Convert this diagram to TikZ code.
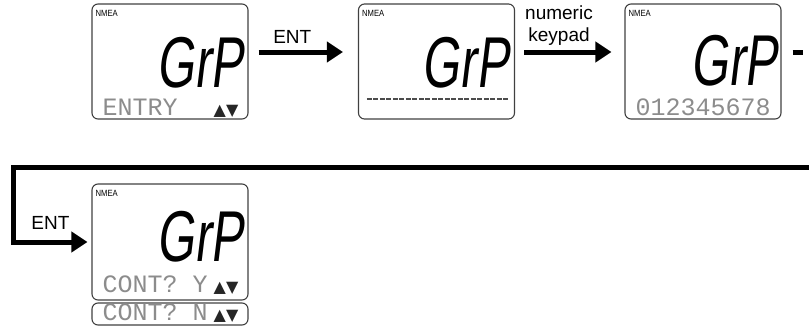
\documentclass[tikz,border=0pt]{standalone}
\usepackage{fontspec}
\setmainfont{Liberation Sans}
\newfontfamily\dotfont{Liberation Mono}
\newfontfamily\segfont[FakeSlant=0.18]{Liberation Sans}
\newfontfamily\symfont{DejaVu Sans}
\usetikzlibrary{arrows.meta,positioning}

\tikzset{
  lcd/.style={draw=black!75, line width=1.1pt, rounded corners=6pt, minimum width=156pt, minimum height=115pt, inner sep=0pt},
  nmea/.style={font=\fontsize{9}{9}\selectfont, xscale=0.85, anchor=north west, inner sep=0pt},
  seg/.style={font=\segfont\fontsize{72}{72}\selectfont, xscale=0.68, anchor=base east, inner sep=0pt, text depth=0pt},
  dots/.style={font=\dotfont\fontsize{25}{25}\selectfont, text=black!45, anchor=base west, inner sep=0pt, text height=15pt},
  updown/.style={font=\symfont\fontsize{16}{16}\selectfont, text=black!85, anchor=base east, inner sep=0pt},
  blank/.style={line width=2pt, black!70, dash pattern=on 5pt off 1.5pt},
  flow/.style={line width=5pt, -{Triangle[length=16pt,width=20pt]}},
  lbl/.style={font=\fontsize{19}{22}\selectfont, align=center, inner sep=1pt}
}

\begin{document}
\begin{tikzpicture}[x=1pt,y=-1pt]
\useasboundingbox (0,0) rectangle (809,327);
\clip (0,0) rectangle (809,327);
% screens
\node[lcd] (scr1) at (170,61.5) {};
\node[lcd] (scr2) at (436.5,61.5) {};
\node[lcd] (scr3) at (703,61.5) {};
\node[lcd, minimum height=116pt] (scr4) at (170,242) {};
\node[lcd, minimum height=22pt] (scr4n) at (170,314) {};
\foreach \s in {scr1,scr2,scr3,scr4}
  \node[nmea] at ([xshift=4pt,yshift=-7pt]\s.north west) {NMEA};
% big segment text
\node[seg] (grp1) at ([xshift=-5pt,yshift=-84pt]scr1.north east) {GrP};
\node[seg] (grp2) at ([xshift=-6pt,yshift=-84pt]scr2.north east) {GrP};
\node[seg] (grp3) at ([xshift=-4pt,yshift=-82pt]scr3.north east) {GrP};
\node[seg] (grp4) at ([xshift=-5pt,yshift=-78pt]scr4.north east) {GrP};
% dot matrix lines
\node[dots] (entry1) at ([xshift=11pt,yshift=4pt]scr1.south west) {ENTRY};
\node[updown] (ud1) at ([xshift=-10pt,yshift=4pt]scr1.south east) {▲▼};
\draw[blank] ([xshift=9pt,yshift=21pt]scr2.south west) -- ([xshift=-6pt,yshift=21pt]scr2.south east);
\node[dots] (num3) at ([xshift=11pt,yshift=4pt]scr3.south west) {012345678};
\node[dots] (conty) at ([xshift=11pt,yshift=8pt]scr4.south west) {CONT? Y};
\node[updown] (ud4) at ([xshift=-10pt,yshift=8pt]scr4.south east) {▲▼};
\node[dots] (contn) at ([xshift=11pt,yshift=5pt]scr4n.south west) {CONT? N};
\node[updown] (ud4n) at ([xshift=-10pt,yshift=5pt]scr4n.south east) {▲▼};
% flow
\draw[flow] ([xshift=10pt,yshift=9.5pt]scr1.east) -- node[lbl, pos=0.4, above=5pt] {ENT} ([xshift=-15pt,yshift=9.5pt]scr2.west);
\draw[flow] ([xshift=9pt,yshift=9.5pt]scr2.east) -- node[lbl, pos=0.4, above=3pt] {numeric\\keypad} ([xshift=-13pt,yshift=9.5pt]scr3.west);
\coordinate (out3) at (803,52);
\draw[line width=5pt] ([xshift=11pt,yshift=9.5pt]scr3.east) -- (out3);
\coordinate (back) at (815,167);
\coordinate (bend) at (13.5,167);
\draw[flow] (back) -- (bend) |- node[lbl, pos=0.75, above=9pt] {ENT} ([xshift=-4pt]scr4.west);
\end{tikzpicture}
\end{document}
